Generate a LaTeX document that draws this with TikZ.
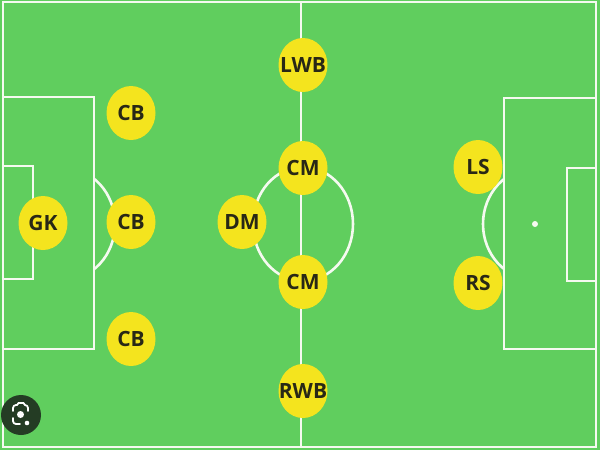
\documentclass[tikz,border=0pt]{standalone}
\usepackage{fontspec}
\setmainfont{Open Sans}
\definecolor{pitch}{RGB}{96,206,94}
\definecolor{player}{RGB}{244,228,30}
\definecolor{ptext}{RGB}{40,40,22}
\definecolor{lineW}{RGB}{245,250,240}
\definecolor{lens}{RGB}{36,60,36}
\tikzset{
  pline/.style={draw=lineW, line width=2.6pt},
  pdisc/.style={fill=player},
  plabel/.style={inner sep=0pt, text=ptext, font=\fontsize{21}{24}\selectfont\bfseries}
}
\newcommand\plyr[3]{%
  \fill[pdisc] (#2) ellipse [x radius=24.5, y radius=27];
  \node[plabel] (#1) at (#2) {#3};}
\begin{document}
\begin{tikzpicture}[x=1pt,y=-1pt]
\fill[pitch] (0,0) rectangle (600,450);
\useasboundingbox (0,0) rectangle (600,450);
% outer boundary
\draw[pline] (3,2) rectangle (596,447);
% halfway line
\draw[pline] (301,2) -- (301,447);
% centre circle
\draw[pline] (303,224) ellipse [x radius=50, y radius=57];
% left penalty area and goal area
\draw[pline] (3,97) -- (94,97) -- (94,349) -- (3,349);
\draw[pline] (3,166) -- (33,166) -- (33,279) -- (3,279);
\begin{scope}
  \clip (95,100) rectangle (200,350);
  \draw[pline] (64,224) ellipse [x radius=51, y radius=56];
\end{scope}
% right penalty area and goal area
\draw[pline] (596,98) -- (504,98) -- (504,349) -- (596,349);
\draw[pline] (596,168) -- (567,168) -- (567,281) -- (596,281);
\begin{scope}
  \clip (400,100) rectangle (503,350);
  \draw[pline] (535,224) ellipse [x radius=52, y radius=56];
\end{scope}
\fill[lineW] (535,224) circle (3);
% players
\plyr{gk}{43,223}{GK}
\plyr{cb1}{131,113}{CB}
\plyr{cb2}{131,222}{CB}
\plyr{cb3}{131,339}{CB}
\plyr{dm}{242,222}{DM}
\plyr{cm1}{303,168}{CM}
\plyr{cm2}{303,282}{CM}
\plyr{lwb}{303,65}{LWB}
\plyr{rwb}{303,391}{RWB}
\plyr{ls}{478,167}{LS}
\plyr{rs}{478,283}{RS}
% lens badge
\fill[lens] (21,415) circle (20);
\begin{scope}[draw=white, line width=1.8pt, line cap=round, line join=round]
  \draw (13,411) -- (13,408) arc[start angle=180, end angle=270, radius=3]
        -- (17,405) -- (18.5,403) -- (23.5,403) -- (25,405)
        arc[start angle=270, end angle=360, radius=3] -- (28,411);
  \draw (13,418) -- (13,421) arc[start angle=180, end angle=90, radius=3] -- (20,424);
\end{scope}
\fill[white] (20.5,414.5) circle (3.5);
\fill[white] (27,423) circle (2.3);
\end{tikzpicture}
\end{document}
